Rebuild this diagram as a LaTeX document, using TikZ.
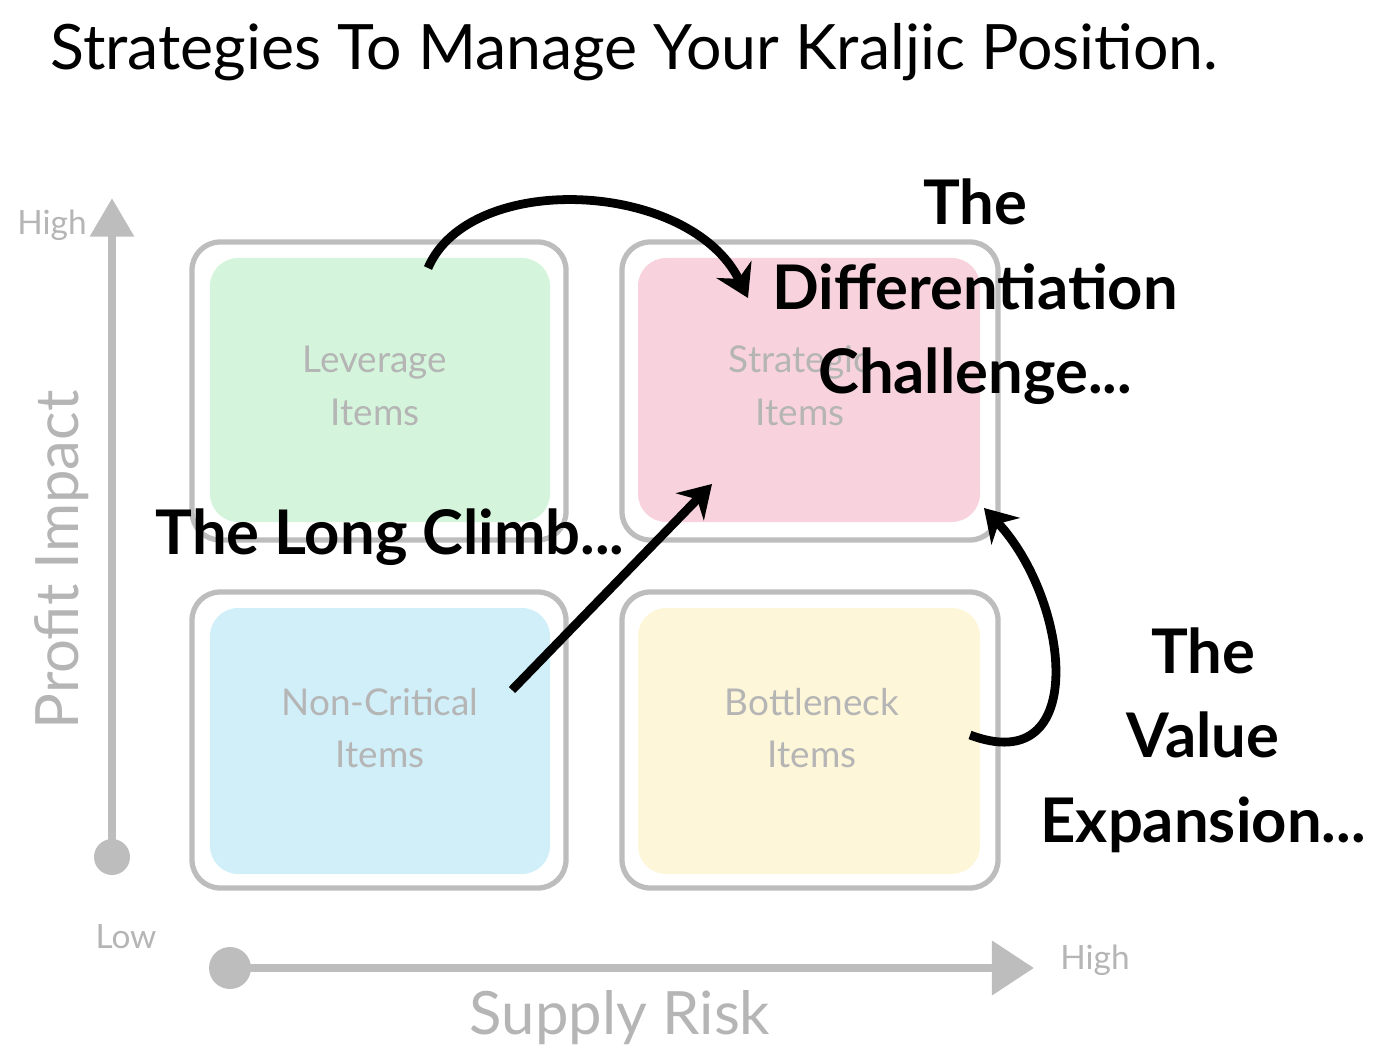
\documentclass[tikz,border=0pt]{standalone}
\usepackage{fontspec}
\setmainfont{Lato}
\usetikzlibrary{arrows.meta,positioning}
\definecolor{axisgray}{HTML}{BDBDBD}
\definecolor{txtgray}{HTML}{B5B5B5}
\definecolor{levgreen}{HTML}{D4F5DC}
\definecolor{strpink}{HTML}{F8D3DE}
\definecolor{noncblue}{HTML}{D0EFF9}
\definecolor{botyellow}{HTML}{FDF6D9}
\tikzset{
  frame/.style={draw=axisgray,line width=1.5pt,rounded corners=8pt},
  cell/.style={rounded corners=8pt},
  cellname/.style={text=txtgray,font=\fontsize{10.5}{15}\selectfont,align=center},
  axisline/.style={draw=axisgray,line width=2.5pt},
  axisname/.style={text=txtgray,font=\fontsize{9.5}{11}\selectfont},
  move/.style={text=black,font=\bfseries\fontsize{17.5}{24}\selectfont,align=center},
  rough/.style={line width=2.5pt,-{Stealth[length=9pt,width=11pt]}}
}
\begin{document}
\begin{tikzpicture}[x=0.01cm,y=-0.01cm]
\useasboundingbox (0,0) rectangle (1400,1064);
% title
\node[anchor=west,font=\fontsize{17.8}{22}\selectfont] (title) at (38,52) {Strategies To Manage Your Kraljic Position.};
% quadrants
\draw[frame] (192,242) rectangle (566,540);
\draw[frame] (622,242) rectangle (998,540);
\draw[frame] (192,592) rectangle (566,888);
\draw[frame] (622,592) rectangle (998,888);
\fill[cell,levgreen] (210,258) rectangle (550,522);
\fill[cell,strpink] (638,258) rectangle (980,522);
\fill[cell,noncblue] (210,608) rectangle (550,874);
\fill[cell,botyellow] (638,608) rectangle (980,874);
\node[cellname] (lev) at (375,386) {Leverage\\Items};
\node[cellname] (str) at (800,386) {Strategic\\Items};
\node[cellname] (nonc) at (380,728) {Non-Critical\\Items};
\node[cellname] (bott) at (812,728) {Bottleneck\\Items};
% axes
\coordinate (yorig) at (112,857);
\coordinate (ytop) at (112,198);
\coordinate (xorig) at (230,968);
\coordinate (xend) at (1034,968);
\fill[axisgray] (yorig) circle (18);
\fill[axisgray] (xorig) circle (21);
\draw[axisline,-{Triangle[length=11pt,width=12pt]}] (yorig) -- (ytop);
\draw[axisline,-{Triangle[length=12pt,width=15pt]}] (xorig) -- (xend);
\node[axisname] (yhigh) at (52,225) {High};
\node[axisname] (ylow) at (126,937) {Low};
\node[axisname] (xhigh) at (1095,960) {High};
\node[text=txtgray,font=\fontsize{17}{20}\selectfont,rotate=90] (yname) at (62,560) {Profit Impact};
\node[text=txtgray,font=\fontsize{17}{20}\selectfont] (xname) at (620,1018) {Supply Risk};
% moves
\node[move] (diff) at (975,292) {The\\Differentiation\\Challenge...};
\node[move] (climb) at (390,537) {The Long Climb...};
\node[move] (value) at (1203,740) {The\\Value\\Expansion...};
\coordinate (d0) at (428,268);
\coordinate (d1) at (748,298);
\coordinate (c0) at (512,690);
\coordinate (c1) at (712,484);
\coordinate (v0) at (970,735);
\coordinate (v1) at (984,508);
\draw[rough] (d0) .. controls (470,170) and (690,180) .. (d1);
\draw[rough] (c0) -- (c1);
\draw[rough] (v0) .. controls (1090,780) and (1070,600) .. (v1);
\end{tikzpicture}
\end{document}
